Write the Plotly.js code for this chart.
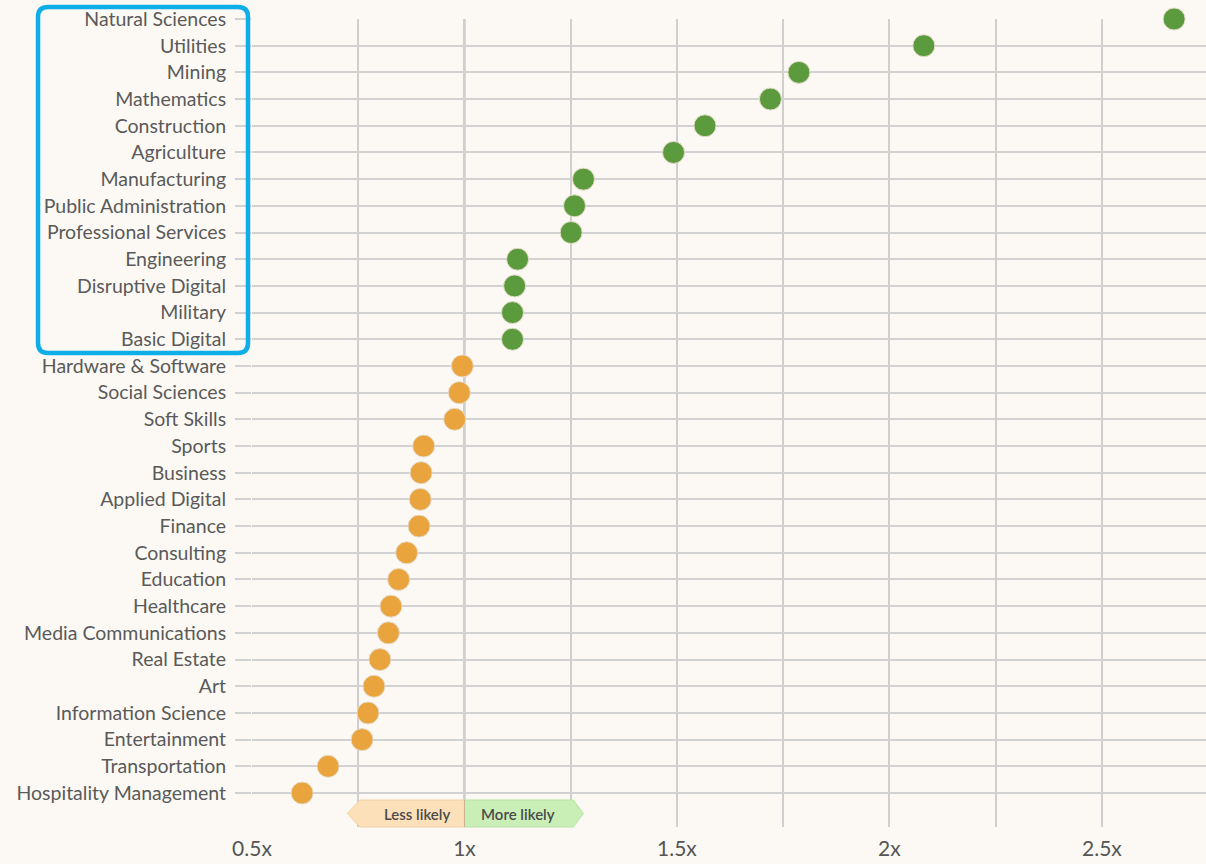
<!DOCTYPE html>
<html>
<head>
<meta charset="utf-8">
<script src="https://cdn.plot.ly/plotly-3.0.1.min.js"></script>
<style>
  html, body { margin: 0; padding: 0; background: #fcf9f4; }
  #chart { width: 1206px; height: 864px; }
</style>
</head>
<body>
<div id="chart"></div>
<script>
// Categories, top to bottom
const categories = [
  "Natural Sciences", "Utilities", "Mining", "Mathematics", "Construction",
  "Agriculture", "Manufacturing", "Public Administration", "Professional Services",
  "Engineering", "Disruptive Digital", "Military", "Basic Digital",
  "Hardware & Software", "Social Sciences", "Soft Skills", "Sports", "Business",
  "Applied Digital", "Finance", "Consulting", "Education", "Healthcare",
  "Media Communications", "Real Estate", "Art", "Information Science",
  "Entertainment", "Transportation", "Hospitality Management"
];
// Likelihood multiplier (x)
const values = [
  2.670, 2.081, 1.787, 1.720, 1.566,
  1.492, 1.280, 1.259, 1.251,
  1.125, 1.118, 1.113, 1.113,
  0.995, 0.988, 0.977, 0.904, 0.898,
  0.896, 0.893, 0.864, 0.845, 0.827,
  0.821, 0.801, 0.787, 0.773,
  0.759, 0.679, 0.618
];
const tickVals = [0.5, 0.75, 1, 1.25, 1.5, 1.75, 2, 2.25, 2.5];
const tickText = ["0.5x", "", "1x", "", "1.5x", "", "2x", "", "2.5x"];
const lessLabel = "Less likely";
const moreLabel = "More likely";

const GREEN = "#5b9b3d";
const ORANGE = "#e9a43d";
const colors = values.map(v => v > 1 ? GREEN : ORANGE);

const trace = {
  type: "scatter",
  mode: "markers",
  x: values,
  y: categories,
  cliponaxis: false,
  hoverinfo: "x+y",
  marker: {
    size: 22,
    color: colors,
    line: { color: "#e6dccb", width: 1 }
  },
  showlegend: false
};

// Rounded rectangle (paper coords) around the top labels
const bx0 = -0.2243, bx1 = -0.0042, by0 = 0.5866, by1 = 1.0149;
const rx = 10 / 954, ry = 10 / 808;
const boxPath =
  `M ${bx0 + rx},${by1} L ${bx1 - rx},${by1} Q ${bx1},${by1} ${bx1},${by1 - ry} ` +
  `L ${bx1},${by0 + ry} Q ${bx1},${by0} ${bx1 - rx},${by0} ` +
  `L ${bx0 + rx},${by0} Q ${bx0},${by0} ${bx0},${by0 + ry} ` +
  `L ${bx0},${by1 - ry} Q ${bx0},${by1} ${bx0 + rx},${by1} Z`;

const yTop = 0.0334, yMid = 0.0167, yBot = 0.0;

const layout = {
  width: 1206,
  height: 864,
  paper_bgcolor: "#fcf9f4",
  plot_bgcolor: "#fcf9f4",
  margin: { l: 252, r: 0, t: 19, b: 37 },
  font: { family: "Lato, 'Noto Sans', sans-serif", color: "#585858" },
  xaxis: {
    range: [0.5, 2.745],
    tickvals: tickVals,
    ticktext: tickText,
    showgrid: true,
    gridcolor: "#cfcfcf",
    gridwidth: 2,
    zeroline: false,
    showline: false,
    ticks: "",
    ticklabelstandoff: 7,
    tickfont: { size: 21, color: "#555555", family: "Lato, sans-serif" },
    fixedrange: true
  },
  yaxis: {
    type: "category",
    categoryorder: "array",
    categoryarray: categories,
    range: [30.274, 0],
    showgrid: true,
    gridcolor: "#d2d2d2",
    gridwidth: 2,
    zeroline: false,
    showline: false,
    ticks: "outside",
    ticklen: 16,
    tickwidth: 2,
    tickcolor: "#d2d2d2",
    ticklabelstandoff: 5,
    tickfont: { size: 19.5, color: "#5a5a5a", family: "Lato, sans-serif" },
    fixedrange: true
  },
  shapes: [
    {
      type: "line", xref: "x", yref: "paper", layer: "between",
      x0: 1, x1: 1, y0: 0, y1: 1,
      line: { color: "#6a6a72", width: 1.5 }
    },
    {
      type: "path", xref: "x", yref: "paper", layer: "above",
      path: `M 1,${yTop} L 0.754,${yTop} L 0.724,${yMid} L 0.754,${yBot} L 1,${yBot} Z`,
      fillcolor: "#fbe0ba", line: { color: "#f0d3a8", width: 1 }
    },
    {
      type: "path", xref: "x", yref: "paper", layer: "above",
      path: `M 1,${yTop} L 1.256,${yTop} L 1.28,${yMid} L 1.256,${yBot} L 1,${yBot} Z`,
      fillcolor: "#c9efb7", line: { color: "#b8e3a5", width: 1 }
    },
    {
      type: "line", xref: "x", yref: "paper", layer: "above",
      x0: 1, x1: 1, y0: yBot, y1: yTop,
      line: { color: "#c9b08a", width: 1 }
    },
    {
      type: "path", xref: "paper", yref: "paper", layer: "above",
      path: boxPath,
      line: { color: "#10aee9", width: 4.5 },
      fillcolor: "rgba(0,0,0,0)"
    }
  ],
  annotations: [
    {
      x: 0.888, y: yMid, xref: "x", yref: "paper",
      xanchor: "center", yanchor: "middle",
      text: lessLabel, showarrow: false,
      font: { size: 15, color: "#4a4a4a", family: "Lato, sans-serif", weight: 600 }
    },
    {
      x: 1.127, y: yMid, xref: "x", yref: "paper",
      xanchor: "center", yanchor: "middle",
      text: moreLabel, showarrow: false,
      font: { size: 15, color: "#4a4a4a", family: "Lato, sans-serif", weight: 600 }
    }
  ]
};

Plotly.newPlot("chart", [trace], layout, { displayModeBar: false });
</script>
</body>
</html>
